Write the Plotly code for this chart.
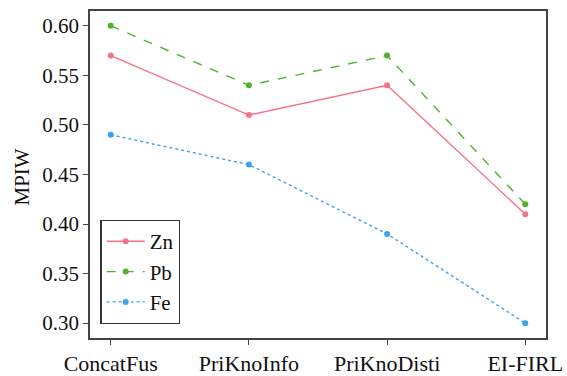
import plotly.graph_objects as go

categories = ["ConcatFus", "PriKnoInfo", "PriKnoDisti", "EI-FIRL"]
zn = [0.57, 0.51, 0.54, 0.41]
pb = [0.60, 0.54, 0.57, 0.42]
fe = [0.49, 0.46, 0.39, 0.30]
y_ticks = [0.30, 0.35, 0.40, 0.45, 0.50, 0.55, 0.60]

series = [
    ("Zn", zn, "#f77189", "solid"),
    ("Pb", pb, "#50b131", "dash"),
    ("Fe", fe, "#3ba3ec", "dot"),
]

FONT = "'Liberation Serif', 'Times New Roman', serif"
FS = 21
fig = go.Figure()
for i, (name, vals, color, dash) in enumerate(series):
    fig.add_trace(go.Scatter(
        x=list(range(len(categories))), y=vals, name=name, mode="lines+markers",
        line=dict(color=color, width=1.4, dash=dash),
        marker=dict(color=color, size=6),
        legendgroup=name,
    ))

fig.update_layout(
    width=567, height=376,
    margin=dict(l=90, r=21, t=11, b=38),
    paper_bgcolor="white", plot_bgcolor="white",
    font=dict(family=FONT, size=FS, color="#111"),
    showlegend=True,
    legend=dict(
        x=0.023, y=0.043, xanchor="left", yanchor="bottom",
        bordercolor="#333", borderwidth=1.2, bgcolor="white",
        font=dict(family=FONT, size=FS), itemwidth=38,
        tracegroupgap=1, traceorder="normal",
    ),
    annotations=[dict(
        text="MPIW", xref="paper", yref="paper", x=0, y=0.5,
        xanchor="center", yanchor="middle", xshift=-69, yshift=-3,
        textangle=-90, showarrow=False, font=dict(family=FONT, size=FS, color="#111"),
    )],
)
fig.update_xaxes(
    range=[-0.15, 3.15], tickmode="array", tickvals=list(range(len(categories))),
    ticktext=categories, showgrid=False, zeroline=False, automargin=False,
    showline=True, linecolor="#444", linewidth=1.5, mirror=True,
    ticks="outside", ticklen=5, tickcolor="#444", tickwidth=1.2,
    tickfont=dict(family=FONT, size=22),
)
fig.update_yaxes(
    range=[0.285, 0.615], tickmode="array", tickvals=y_ticks,
    ticktext=[f"{v:.2f}" for v in y_ticks], showgrid=False, zeroline=False, automargin=False,
    showline=True, linecolor="#444", linewidth=1.5, mirror=True,
    ticks="outside", ticklen=5, tickcolor="#444", tickwidth=1.2,
    tickfont=dict(family=FONT, size=FS),
)
fig.write_html("out.html")
